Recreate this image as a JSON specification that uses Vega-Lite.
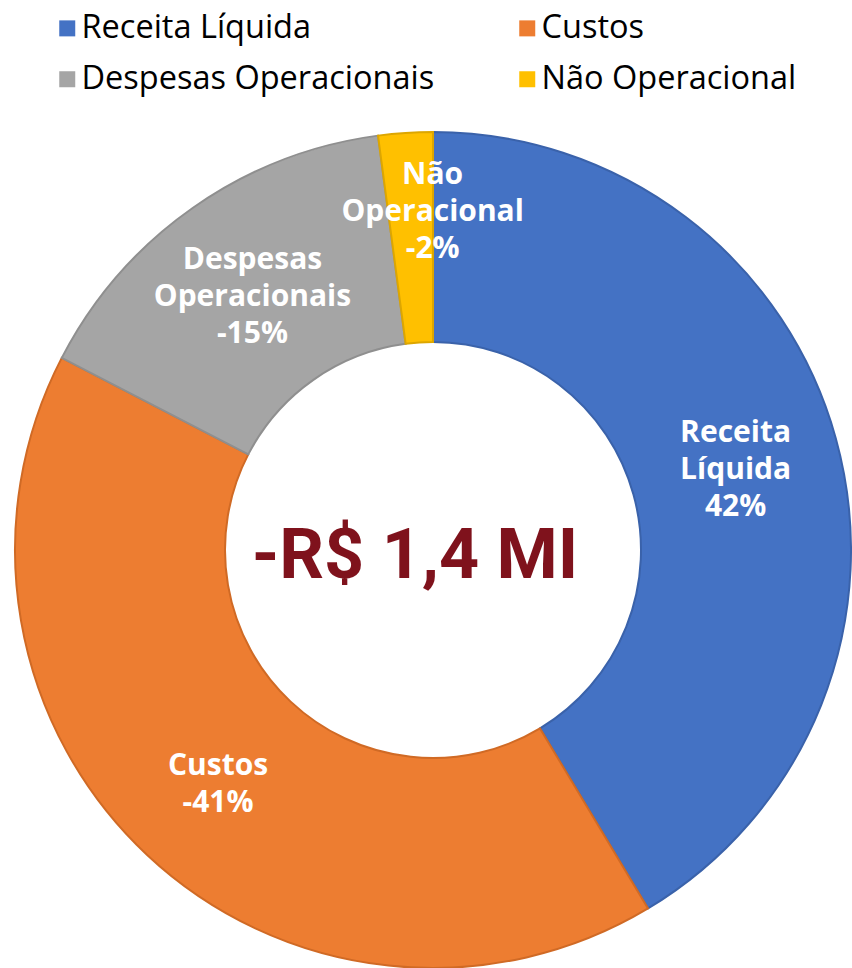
{
  "$schema": "https://vega.github.io/schema/vega-lite/v6.json",
  "width": 838,
  "height": 836,
  "autosize": {"type": "none"},
  "padding": {"left": 14, "top": 132, "right": 0, "bottom": 0},
  "background": "white",
  "config": {"view": {"stroke": null}, "font": "Open Sans"},
  "data": {"values": [
    {"idx": 1, "categoria": "Receita Líquida", "valor": 41.4, "rotulo": "Receita\nLíquida\n42%"},
    {"idx": 2, "categoria": "Custos", "valor": 41.2, "rotulo": "Custos\n-41%"},
    {"idx": 3, "categoria": "Despesas Operacionais", "valor": 15.3, "rotulo": "Despesas\nOperacionais\n-15%"},
    {"idx": 4, "categoria": "Não Operacional", "valor": 2.1, "rotulo": "Não\nOperacional\n-2%"}
  ]},
  "layer": [
    {
      "mark": {"type": "arc", "outerRadius": 418, "innerRadius": 208, "strokeWidth": 2},
      "encoding": {
        "theta": {"field": "valor", "type": "quantitative", "stack": true},
        "order": {"field": "idx", "type": "quantitative"},
        "color": {
          "field": "categoria", "type": "nominal",
          "scale": {
            "domain": ["Receita Líquida", "Custos", "Despesas Operacionais", "Não Operacional"],
            "range": ["#4472C4", "#ED7D31", "#A5A5A5", "#FFC000"]
          },
          "legend": {
            "orient": "none", "legendX": 37, "legendY": -120, "columns": 2,
            "direction": "horizontal",
            "columnPadding": 76, "rowPadding": 18, "title": null,
            "labelFontSize": 32.5, "labelColor": "#000000", "labelLimit": 600,
            "labelFont": "Open Sans", "labelOffset": -2,
            "symbolType": "square", "symbolSize": 256, "symbolStrokeWidth": 0
          }
        },
        "stroke": {
          "field": "categoria", "type": "nominal",
          "scale": {
            "domain": ["Receita Líquida", "Custos", "Despesas Operacionais", "Não Operacional"],
            "range": ["#3A62AA", "#D06A25", "#8F8F8F", "#DDA600"]
          },
          "legend": null
        }
      }
    },
    {
      "mark": {"type": "text", "radius": 314, "dy": -33, "lineBreak": "\n", "fontSize": 30, "fontWeight": "bold", "color": "white", "lineHeight": 37, "font": "Open Sans"},
      "encoding": {
        "theta": {"field": "valor", "type": "quantitative", "stack": true},
        "order": {"field": "idx", "type": "quantitative"},
        "text": {"condition": {"test": "datum.idx == 1 || datum.idx == 3", "field": "rotulo"}, "value": ""}
      }
    },
    {
      "mark": {"type": "text", "radius": 314, "dy": -13, "lineBreak": "\n", "fontSize": 30, "fontWeight": "bold", "color": "white", "lineHeight": 37, "font": "Open Sans"},
      "encoding": {
        "theta": {"field": "valor", "type": "quantitative", "stack": true},
        "order": {"field": "idx", "type": "quantitative"},
        "text": {"condition": {"test": "datum.idx == 2", "field": "rotulo"}, "value": ""}
      }
    },
    {
      "mark": {"type": "text", "radius": 339, "dx": 22, "dy": -37, "lineBreak": "\n", "fontSize": 30, "fontWeight": "bold", "color": "white", "lineHeight": 37, "font": "Open Sans"},
      "encoding": {
        "theta": {"field": "valor", "type": "quantitative", "stack": true},
        "order": {"field": "idx", "type": "quantitative"},
        "text": {"condition": {"test": "datum.idx == 4", "field": "rotulo"}, "value": ""}
      }
    },
    {
      "data": {"values": [{"total": "-R$ 1,4 MI"}]},
      "mark": {"type": "text", "fontSize": 70, "fontWeight": "bold", "color": "#7F121C", "dx": -18, "dy": 7, "font": "Roboto"},
      "encoding": {"text": {"field": "total", "type": "nominal"}}
    }
  ]
}
